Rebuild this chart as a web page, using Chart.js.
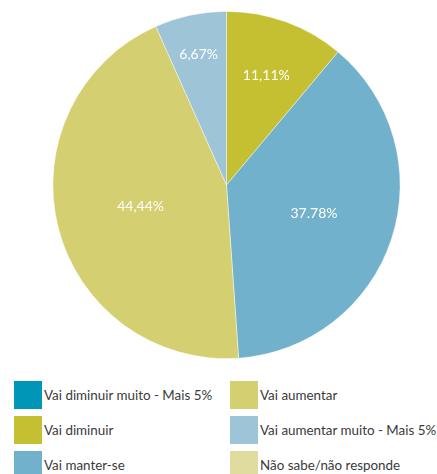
<!DOCTYPE html>
<html>
<head>
<meta charset="utf-8">
<script src="https://cdn.jsdelivr.net/npm/chart.js@4/dist/chart.umd.min.js"></script>
<style>
  html, body { margin: 0; padding: 0; background: #fff; }
  body { width: 437px; height: 474px; position: relative; overflow: hidden; font-family: Lato, "Open Sans", sans-serif; }
  #wrap { position: absolute; left: 0; top: 0; width: 437px; height: 370px; }
  #legend { position: absolute; left: 0; top: 381px; width: 437px; }
  .item { position: absolute; height: 28px; display: flex; align-items: center; color: #3a3a3a; font-size: 13.4px; white-space: nowrap; }
  .sw { width: 28px; height: 28px; margin-right: 2px; flex: none; }
</style>
</head>
<body>
<div id="wrap"><canvas id="c"></canvas></div>
<div id="legend"></div>
<script>
const categories = [
  "Vai diminuir muito - Mais 5%",
  "Vai diminuir",
  "Vai manter-se",
  "Vai aumentar",
  "Vai aumentar muito - Mais 5%",
  "Não sabe/não responde"
];
const values = [0, 11.11, 37.78, 44.44, 6.67, 0];
const valueLabels = ["0%", "11,11%", "37.78%", "44,44%", "6,67%", "0%"];
const colors = ["#0096b8", "#c5c032", "#72b1cb", "#d4cf71", "#9dc4d7", "#e0dc9e"];
const labelRadius = [0.6, 0.67, 0.53, 0.51, 0.77, 0.6];

const labelPlugin = {
  id: 'sliceLabels',
  afterDatasetsDraw(chart) {
    const ctx = chart.ctx;
    const meta = chart.getDatasetMeta(0);
    ctx.save();
    ctx.font = '14px Lato, "Open Sans", sans-serif';
    ctx.fillStyle = '#ffffff';
    ctx.textAlign = 'center';
    ctx.textBaseline = 'middle';
    meta.data.forEach((arc, i) => {
      if (!values[i]) return;
      const p = arc.getProps(['x', 'y', 'startAngle', 'endAngle', 'outerRadius'], true);
      const mid = (p.startAngle + p.endAngle) / 2;
      const r = p.outerRadius * labelRadius[i];
      ctx.fillText(valueLabels[i], p.x + Math.cos(mid) * r, p.y + Math.sin(mid) * r);
    });
    ctx.restore();
  }
};

new Chart(document.getElementById('c'), {
  type: 'pie',
  data: {
    labels: categories,
    datasets: [{
      data: values,
      backgroundColor: colors,
      borderColor: 'rgba(255,255,255,0.55)',
      borderWidth: 0.8
    }]
  },
  options: {
    responsive: true,
    maintainAspectRatio: false,
    animation: false,
    layout: { padding: { left: 16, top: 11, bottom: 11, right: 0 } },
    plugins: { legend: { display: false }, tooltip: { enabled: false } }
  },
  plugins: [labelPlugin]
});

// HTML legend, column-major in two columns
const legend = document.getElementById('legend');
const rows = 3;
categories.forEach((name, i) => {
  const col = Math.floor(i / rows), row = i % rows;
  const d = document.createElement('div');
  d.className = 'item';
  d.style.left = (14 + col * 216) + 'px';
  d.style.top = (row * 35) + 'px';
  const sw = document.createElement('span');
  sw.className = 'sw';
  sw.style.background = colors[i];
  const t = document.createElement('span');
  t.textContent = name;
  d.appendChild(sw); d.appendChild(t);
  legend.appendChild(d);
});
</script>
</body>
</html>
